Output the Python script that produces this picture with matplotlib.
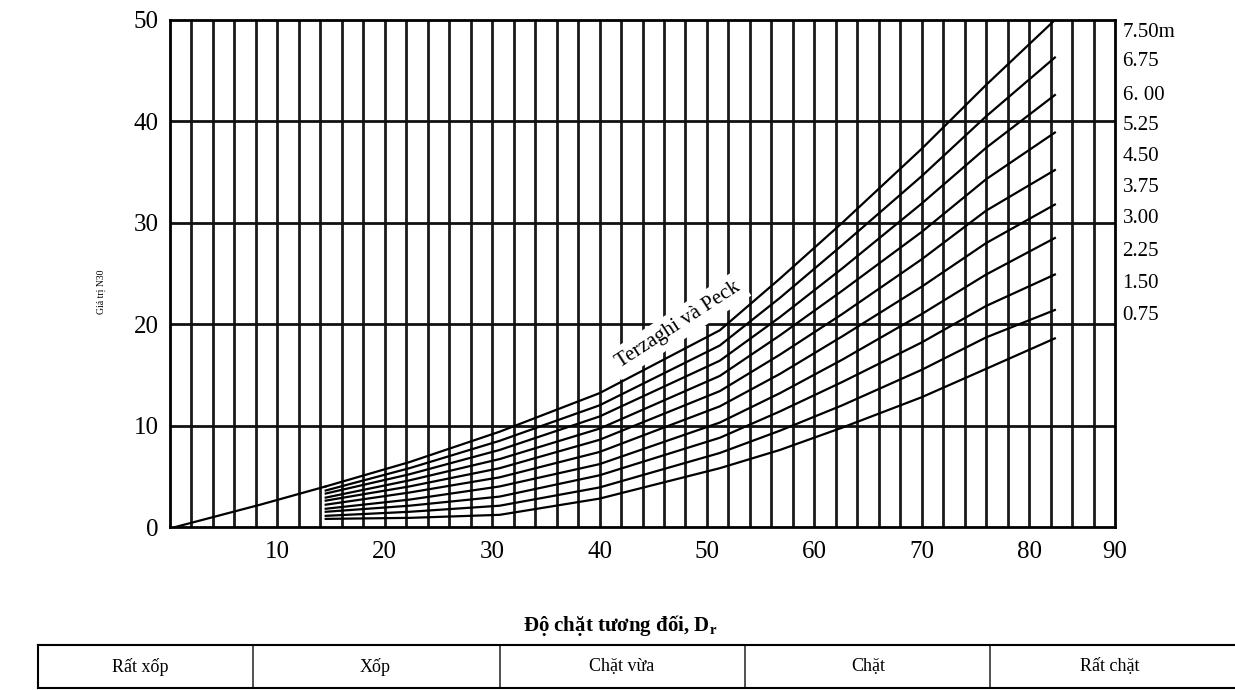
import matplotlib.pyplot as plt
import numpy as np

plt.rcParams['font.family'] = ['Liberation Serif', 'DejaVu Serif']

# depth labels (top curve first)
depths = ['7.50m', '6.75', '6. 00', '5.25', '4.50', '3.75', '3.00', '2.25', '1.50', '0.75']
label_y = [48.8, 45.9, 42.6, 39.6, 36.5, 33.5, 30.4, 27.2, 24.0, 20.9]

# x positions where curves were read (relative density, %)
dr = [14.5, 22.3, 30.7, 40, 51.2, 56.8, 62.6, 70, 76, 82.4]
# N values, one list per depth
n_750 = [4.0, 6.4, 9.4, 13.2, 19.4, 24.5, 30.0, 37.3, 43.6, 50.0]
n_675 = [3.6, 5.8, 8.5, 12.0, 17.9, 22.6, 27.8, 34.6, 40.5, 46.3]
n_600 = [3.3, 5.2, 7.6, 10.9, 16.4, 20.7, 25.5, 31.9, 37.4, 42.6]
n_525 = [2.9, 4.6, 6.7, 9.7, 14.9, 18.9, 23.3, 29.1, 34.3, 38.9]
n_450 = [2.6, 4.0, 5.8, 8.6, 13.4, 17.0, 21.0, 26.4, 31.2, 35.2]
n_375 = [2.2, 3.4, 4.9, 7.4, 11.9, 15.1, 18.8, 23.7, 28.0, 31.8]
n_300 = [1.8, 2.7, 4.0, 6.2, 10.3, 13.2, 16.5, 21.0, 24.9, 28.5]
n_225 = [1.5, 2.1, 3.0, 5.1, 8.8, 11.4, 14.3, 18.2, 21.8, 24.9]
n_150 = [1.1, 1.5, 2.1, 3.9, 7.3, 9.5, 12.0, 15.5, 18.7, 21.4]
n_075 = [0.8, 0.9, 1.2, 2.8, 5.8, 7.6, 9.8, 12.8, 15.6, 18.6]
curves = [n_750, n_675, n_600, n_525, n_450, n_375, n_300, n_225, n_150, n_075]

# lower part of the top curve (from the origin)
top_start_x = [0.5, 8.4, 14.5]
top_start_y = [0.0, 2.2, 4.0]

xtick_pos = [10, 20, 30, 40, 50, 60, 70, 80, 88]
xtick_lab = ['10', '20', '30', '40', '50', '60', '70', '80', '90']
classes = ['Rất xốp', 'Xốp', 'Chặt vừa', 'Chặt', 'Rất chặt']

fig = plt.figure(figsize=(12.35, 6.9), dpi=100)
ax = fig.add_axes([170/1235, 163/690, 945/1235, 507/690])

# grid
for xv in np.arange(2, 88, 2):
	ax.axvline(xv, color='#1a1a1a', lw=2.0, zorder=1)
for yv in [10, 20, 30, 40]:
	ax.axhline(yv, color='#111111', lw=2.0, zorder=1)

# curves
ax.plot(top_start_x, top_start_y, color='black', lw=1.6, zorder=3)
for yy in curves:
	ax.plot(dr, yy, color='black', lw=1.6, zorder=3)

ax.text(47.3, 19.9, 'Terzaghi và Peck', rotation=33, fontsize=15,
	ha='center', va='center', zorder=4,
	bbox=dict(facecolor='white', edgecolor='none', pad=4))

for lab, yv in zip(depths, label_y):
	ax.text(1.008, yv, lab, transform=ax.get_yaxis_transform(), fontsize=15,
		ha='left', va='center', clip_on=False)

ax.set_xlim(0, 88)
ax.set_ylim(0, 50)
ax.set_xticks(xtick_pos)
ax.set_xticklabels(xtick_lab)
ax.set_yticks([0, 10, 20, 30, 40, 50])
ax.tick_params(axis='both', length=0, labelsize=18)
ax.tick_params(axis='x', pad=10)
ax.tick_params(axis='y', pad=8)
for sp in ax.spines.values():
	sp.set_linewidth(2)

fig.text(101/1235, 1 - 292/690, 'Giá trị N30', rotation=90,
	ha='center', va='center', fontsize=7)

fig.text(620/1235, 1 - 626/690, 'Độ chặt tương đối, D$_\\mathregular{r}$',
	ha='center', va='center', fontsize=15, fontweight='bold')

# classification strip (pixel units inside the strip)
tab = fig.add_axes([38/1235, 2/690, 1197/1235, 43/690])
tab.set_xlim(0, 1197)
tab.set_ylim(0, 1)
tab.set_xticks([])
tab.set_yticks([])
for sp in tab.spines.values():
	sp.set_linewidth(1.5)
tab.spines['right'].set_visible(False)
for xv in [215, 462, 707, 952]:
	tab.axvline(xv, color='#333333', lw=1.2)
for xc, c in zip([102, 337, 584, 830, 1072], classes):
	tab.text(xc, 0.5, c, ha='center', va='center', fontsize=13)

plt.savefig('out.png', dpi=100)
